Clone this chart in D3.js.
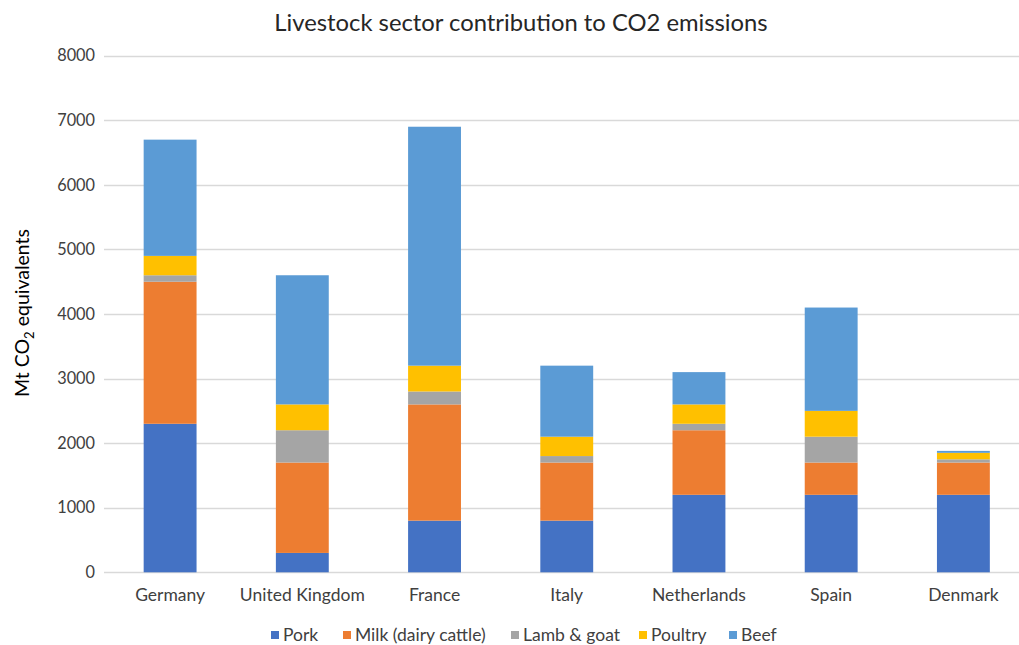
<!DOCTYPE html>
<html>
<head>
<meta charset="utf-8">
<script src="https://cdn.jsdelivr.net/npm/d3@7"></script>
<style>
  html, body { margin: 0; padding: 0; background: #fff; }
  svg { display: block; font-family: Lato, "Open Sans", sans-serif; }
</style>
</head>
<body>
<svg id="chart" width="1019" height="645"></svg>
<script>
// Countries along the x axis
const countries = ["Germany", "United Kingdom", "France", "Italy", "Netherlands", "Spain", "Denmark"];

// Emissions per livestock type (Mt CO2 equivalents), one value per country
const pork    = [2300,  300,  800,  800, 1200, 1200, 1200];
const milk    = [2200, 1400, 1800,  900, 1000,  500,  500];
const lamb    = [ 100,  500,  200,  100,  100,  400,   50];
const poultry = [ 300,  400,  400,  300,  300,  400,  100];
const beef    = [1800, 2000, 3700, 1100,  500, 1600,   30];

const seriesNames = ["Pork", "Milk (dairy cattle)", "Lamb & goat", "Poultry", "Beef"];
const seriesValues = [pork, milk, lamb, poultry, beef];
const seriesColors = ["#4472C4", "#ED7D31", "#A5A5A5", "#FFC000", "#5B9BD5"];

const yTicks = [0, 1000, 2000, 3000, 4000, 5000, 6000, 7000, 8000];

const svg = d3.select("#chart");
const plot = { left: 104, right: 1029.5, top: 55.7, bottom: 572.3 };

const x = d3.scaleBand()
  .domain(countries)
  .range([plot.left, plot.right])
  .paddingInner(0.6)
  .paddingOuter(0.3);

const y = d3.scaleLinear()
  .domain([0, 8000])
  .range([plot.bottom, plot.top]);

// Rows for the stack layout
const rows = countries.map((c, i) => {
  const r = { country: c };
  seriesNames.forEach((s, j) => { r[s] = seriesValues[j][i]; });
  return r;
});
const stacked = d3.stack().keys(seriesNames)(rows);

// Horizontal gridlines
svg.append("g")
  .selectAll("line")
  .data(yTicks)
  .join("line")
  .attr("x1", plot.left)
  .attr("x2", 1019)
  .attr("y1", d => Math.round(y(d)) + 0.5)
  .attr("y2", d => Math.round(y(d)) + 0.5)
  .attr("stroke", "#d9d9d9")
  .attr("stroke-width", 1.3);

// Y axis labels
const yAxis = svg.append("g")
  .attr("transform", `translate(${plot.left},0)`)
  .call(d3.axisLeft(y).tickValues(yTicks).tickSize(0).tickPadding(9).tickFormat(d3.format("d")));
yAxis.select(".domain").remove();
yAxis.selectAll("text")
  .attr("font-size", 16.3)
  .attr("fill", "#404040")
  .style("font-family", "Lato, 'Open Sans', sans-serif");

// Stacked bars
svg.append("g")
  .selectAll("g")
  .data(stacked)
  .join("g")
  .attr("fill", (d, i) => seriesColors[i])
  .selectAll("rect")
  .data(d => d)
  .join("rect")
  .attr("x", d => x(d.data.country))
  .attr("width", x.bandwidth())
  .attr("y", d => y(d[1]))
  .attr("height", d => y(d[0]) - y(d[1]));

// X axis labels
const xAxis = svg.append("g")
  .attr("transform", `translate(0,${plot.bottom})`)
  .call(d3.axisBottom(x).tickSize(0).tickPadding(16));
xAxis.select(".domain").remove();
xAxis.selectAll("text")
  .attr("font-size", 17.5)
  .attr("fill", "#404040")
  .style("font-family", "Lato, 'Open Sans', sans-serif");

// Title
svg.append("text")
  .attr("x", 521)
  .attr("y", 30.5)
  .attr("text-anchor", "middle")
  .attr("font-size", 23.8)
  .attr("fill", "#262626")
  .text("Livestock sector contribution to CO2 emissions");

// Y axis title with subscript
const yTitle = svg.append("text")
  .attr("transform", "translate(29,313) rotate(-90)")
  .attr("text-anchor", "middle")
  .attr("font-size", 19.5)
  .attr("fill", "#000");
yTitle.append("tspan").text("Mt CO");
yTitle.append("tspan").attr("font-size", 13).attr("dy", 5).text("2");
yTitle.append("tspan").attr("dy", -5).text(" equivalents");

// Legend
const legendX = [271, 343, 511, 639, 729];
const legend = svg.append("g")
  .selectAll("g")
  .data(seriesNames)
  .join("g")
  .attr("transform", (d, i) => `translate(${legendX[i]},635)`);
legend.append("rect")
  .attr("x", 0).attr("y", -4)
  .attr("width", 8).attr("height", 8)
  .attr("fill", (d, i) => seriesColors[i]);
legend.append("text")
  .attr("x", 12)
  .attr("y", 6.3)
  .attr("font-size", 17.5)
  .attr("fill", "#404040")
  .text(d => d);
</script>
</body>
</html>
